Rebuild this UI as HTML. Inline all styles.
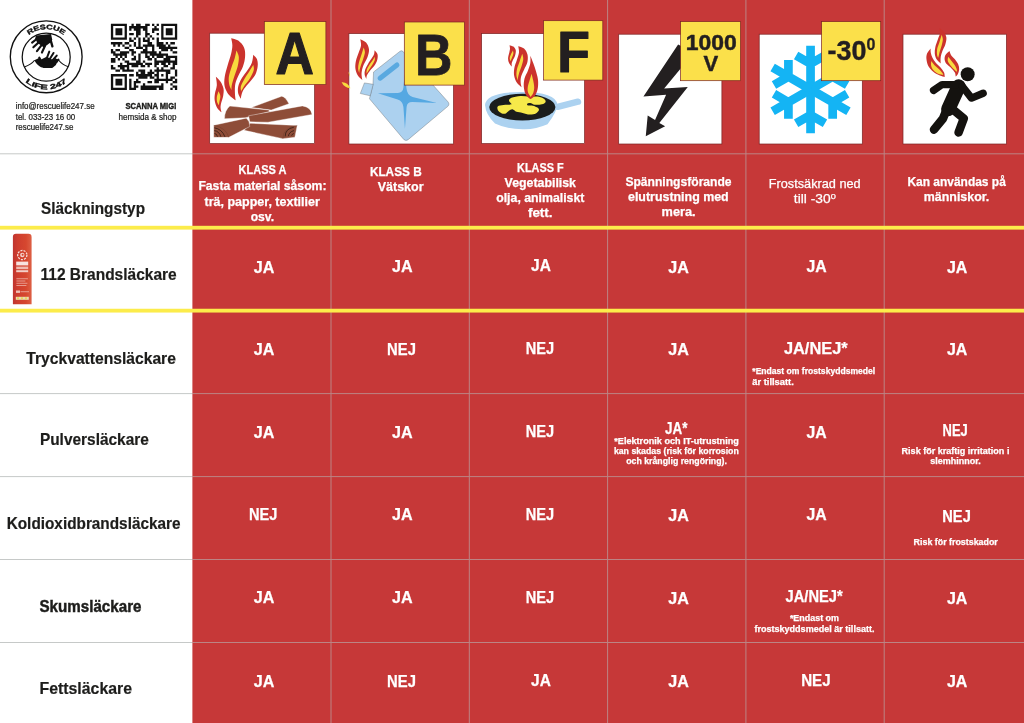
<!DOCTYPE html><html lang="sv"><head><meta charset="utf-8"><title>Släckningstyp</title>
<style>html,body{margin:0;padding:0;background:#fff;overflow:hidden}svg{display:block;will-change:transform}text{font-family:"Liberation Sans",sans-serif}</style></head><body>
<svg width="1024" height="723" viewBox="0 0 1024 723">
<rect width="1024" height="723" fill="#fff"/>
<rect x="192.4" y="0" width="831.6" height="723" fill="#C63838"/>
<rect x="330.5" y="0" width="1" height="723" fill="#BC8484"/>
<rect x="468.8" y="0" width="1" height="723" fill="#BC8484"/>
<rect x="607.1" y="0" width="1" height="723" fill="#BC8484"/>
<rect x="745.4" y="0" width="1" height="723" fill="#BC8484"/>
<rect x="883.7" y="0" width="1" height="723" fill="#BC8484"/>
<rect x="0" y="153.3" width="192.4" height="1" fill="#C6C9C8"/>
<rect x="192.4" y="153.3" width="831.6" height="1" fill="#BC8484"/>
<rect x="0" y="393.1" width="192.4" height="1" fill="#C6C9C8"/>
<rect x="192.4" y="393.1" width="831.6" height="1" fill="#BC8484"/>
<rect x="0" y="476.1" width="192.4" height="1" fill="#C6C9C8"/>
<rect x="192.4" y="476.1" width="831.6" height="1" fill="#BC8484"/>
<rect x="0" y="559.0" width="192.4" height="1" fill="#C6C9C8"/>
<rect x="192.4" y="559.0" width="831.6" height="1" fill="#BC8484"/>
<rect x="0" y="642.0" width="192.4" height="1" fill="#C6C9C8"/>
<rect x="192.4" y="642.0" width="831.6" height="1" fill="#BC8484"/>
<rect x="0" y="225.80" width="1024" height="3.8" fill="#FCEC4B"/>
<rect x="0" y="308.75" width="1024" height="3.8" fill="#FCEC4B"/>
<text x="41.1" y="213.6" font-size="16.4" font-weight="bold" fill="#1d1d1b" text-anchor="start" textLength="103.9" lengthAdjust="spacingAndGlyphs" stroke="#1d1d1b" stroke-width="0.2">Släckningstyp</text>
<text x="40.5" y="280.0" font-size="16.4" font-weight="bold" fill="#1d1d1b" text-anchor="start" textLength="136.2" lengthAdjust="spacingAndGlyphs" stroke="#1d1d1b" stroke-width="0.2">112 Brandsläckare</text>
<text x="26.3" y="363.6" font-size="16.4" font-weight="bold" fill="#1d1d1b" text-anchor="start" textLength="149.6" lengthAdjust="spacingAndGlyphs" stroke="#1d1d1b" stroke-width="0.2">Tryckvattensläckare</text>
<text x="39.9" y="444.8" font-size="16.4" font-weight="bold" fill="#1d1d1b" text-anchor="start" textLength="109.0" lengthAdjust="spacingAndGlyphs" stroke="#1d1d1b" stroke-width="0.2">Pulversläckare</text>
<text x="6.7" y="529.0" font-size="16.4" font-weight="bold" fill="#1d1d1b" text-anchor="start" textLength="173.8" lengthAdjust="spacingAndGlyphs" stroke="#1d1d1b" stroke-width="0.2">Koldioxidbrandsläckare</text>
<text x="39.5" y="611.6" font-size="16.4" font-weight="bold" fill="#1d1d1b" text-anchor="start" textLength="102.0" lengthAdjust="spacingAndGlyphs" stroke="#1d1d1b" stroke-width="0.45">Skumsläckare</text>
<text x="39.5" y="694.4" font-size="16.4" font-weight="bold" fill="#1d1d1b" text-anchor="start" textLength="92.5" lengthAdjust="spacingAndGlyphs" stroke="#1d1d1b" stroke-width="0.2">Fettsläckare</text>
<text x="15.7" y="108.9" font-size="8.2" font-weight="normal" fill="#1d1d1b" text-anchor="start" textLength="78.9" lengthAdjust="spacingAndGlyphs" stroke="#1d1d1b" stroke-width="0.22">info@rescuelife247.se</text>
<text x="15.7" y="119.6" font-size="8.2" font-weight="normal" fill="#1d1d1b" text-anchor="start" textLength="59.6" lengthAdjust="spacingAndGlyphs" stroke="#1d1d1b" stroke-width="0.22">tel. 033-23 16 00</text>
<text x="15.7" y="129.9" font-size="8.2" font-weight="normal" fill="#1d1d1b" text-anchor="start" textLength="57.7" lengthAdjust="spacingAndGlyphs" stroke="#1d1d1b" stroke-width="0.22">rescuelife247.se</text>
<text x="125.4" y="108.9" font-size="8.2" font-weight="bold" fill="#1d1d1b" text-anchor="start" textLength="51.2" lengthAdjust="spacingAndGlyphs" stroke="#1d1d1b" stroke-width="0.4">SCANNA MIG!</text>
<text x="118.5" y="119.6" font-size="8.2" font-weight="normal" fill="#1d1d1b" text-anchor="start" textLength="58.1" lengthAdjust="spacingAndGlyphs" stroke="#1d1d1b" stroke-width="0.22">hemsida &amp; shop</text>
<text x="238.6" y="174.4" font-size="12.4" font-weight="bold" fill="#fff" text-anchor="start" textLength="48.0" lengthAdjust="spacingAndGlyphs" stroke="#fff" stroke-width="0.25">KLASS A</text>
<text x="198.4" y="190.0" font-size="12.4" font-weight="bold" fill="#fff" text-anchor="start" textLength="128.1" lengthAdjust="spacingAndGlyphs" stroke="#fff" stroke-width="0.25">Fasta material såsom:</text>
<text x="204.6" y="205.6" font-size="12.4" font-weight="bold" fill="#fff" text-anchor="start" textLength="115.2" lengthAdjust="spacingAndGlyphs" stroke="#fff" stroke-width="0.25">trä, papper, textilier</text>
<text x="250.7" y="221.2" font-size="12.4" font-weight="bold" fill="#fff" text-anchor="start" textLength="23.4" lengthAdjust="spacingAndGlyphs" stroke="#fff" stroke-width="0.25">osv.</text>
<text x="369.9" y="175.5" font-size="12.4" font-weight="bold" fill="#fff" text-anchor="start" textLength="51.8" lengthAdjust="spacingAndGlyphs" stroke="#fff" stroke-width="0.25">KLASS B</text>
<text x="377.7" y="191.4" font-size="12.4" font-weight="bold" fill="#fff" text-anchor="start" textLength="45.9" lengthAdjust="spacingAndGlyphs" stroke="#fff" stroke-width="0.25">Vätskor</text>
<text x="517.1" y="171.6" font-size="12.4" font-weight="bold" fill="#fff" text-anchor="start" textLength="46.6" lengthAdjust="spacingAndGlyphs" stroke="#fff" stroke-width="0.25">KLASS F</text>
<text x="504.6" y="187.2" font-size="12.4" font-weight="bold" fill="#fff" text-anchor="start" textLength="71.4" lengthAdjust="spacingAndGlyphs" stroke="#fff" stroke-width="0.25">Vegetabilisk</text>
<text x="496.2" y="202.3" font-size="12.4" font-weight="bold" fill="#fff" text-anchor="start" textLength="88.2" lengthAdjust="spacingAndGlyphs" stroke="#fff" stroke-width="0.25">olja, animaliskt</text>
<text x="527.9" y="217.3" font-size="12.4" font-weight="bold" fill="#fff" text-anchor="start" textLength="24.7" lengthAdjust="spacingAndGlyphs" stroke="#fff" stroke-width="0.25">fett.</text>
<text x="625.4" y="185.6" font-size="12.4" font-weight="bold" fill="#fff" text-anchor="start" textLength="106.2" lengthAdjust="spacingAndGlyphs" stroke="#fff" stroke-width="0.25">Spänningsförande</text>
<text x="628.0" y="200.5" font-size="12.4" font-weight="bold" fill="#fff" text-anchor="start" textLength="100.7" lengthAdjust="spacingAndGlyphs" stroke="#fff" stroke-width="0.25">elutrustning med</text>
<text x="661.6" y="215.6" font-size="12.4" font-weight="bold" fill="#fff" text-anchor="start" textLength="34.0" lengthAdjust="spacingAndGlyphs" stroke="#fff" stroke-width="0.25">mera.</text>
<text x="768.8" y="187.5" font-size="12.4" font-weight="normal" fill="#fff" text-anchor="start" textLength="91.8" lengthAdjust="spacingAndGlyphs" stroke="#fff" stroke-width="0.25">Frostsäkrad ned</text>
<text x="793.8" y="203.1" font-size="12.4" font-weight="normal" fill="#fff" text-anchor="start" textLength="36.8" lengthAdjust="spacingAndGlyphs" stroke="#fff" stroke-width="0.25">till -30</text>
<text x="830.8" y="198.6" font-size="7.5" font-weight="normal" fill="#fff" text-anchor="start" textLength="5.1" lengthAdjust="spacingAndGlyphs" stroke="#fff" stroke-width="0.25">0</text>
<text x="907.4" y="186.0" font-size="12.4" font-weight="bold" fill="#fff" text-anchor="start" textLength="98.4" lengthAdjust="spacingAndGlyphs" stroke="#fff" stroke-width="0.25">Kan användas på</text>
<text x="923.8" y="201.1" font-size="12.4" font-weight="bold" fill="#fff" text-anchor="start" textLength="65.5" lengthAdjust="spacingAndGlyphs" stroke="#fff" stroke-width="0.25">människor.</text>
<text x="253.8" y="272.6" font-size="15.6" font-weight="bold" fill="#fff" text-anchor="start" textLength="20.6" lengthAdjust="spacingAndGlyphs" stroke="#fff" stroke-width="0.25">JA</text>
<text x="392.1" y="272.2" font-size="15.6" font-weight="bold" fill="#fff" text-anchor="start" textLength="20.6" lengthAdjust="spacingAndGlyphs" stroke="#fff" stroke-width="0.25">JA</text>
<text x="531.1" y="271.3" font-size="15.6" font-weight="bold" fill="#fff" text-anchor="start" textLength="19.8" lengthAdjust="spacingAndGlyphs" stroke="#fff" stroke-width="0.25">JA</text>
<text x="668.3" y="273.0" font-size="15.6" font-weight="bold" fill="#fff" text-anchor="start" textLength="20.6" lengthAdjust="spacingAndGlyphs" stroke="#fff" stroke-width="0.25">JA</text>
<text x="806.5" y="271.8" font-size="15.6" font-weight="bold" fill="#fff" text-anchor="start" textLength="20.2" lengthAdjust="spacingAndGlyphs" stroke="#fff" stroke-width="0.25">JA</text>
<text x="947.0" y="273.0" font-size="15.6" font-weight="bold" fill="#fff" text-anchor="start" textLength="20.4" lengthAdjust="spacingAndGlyphs" stroke="#fff" stroke-width="0.25">JA</text>
<text x="253.8" y="355.0" font-size="15.6" font-weight="bold" fill="#fff" text-anchor="start" textLength="20.6" lengthAdjust="spacingAndGlyphs" stroke="#fff" stroke-width="0.25">JA</text>
<text x="387.1" y="355.0" font-size="15.6" font-weight="bold" fill="#fff" text-anchor="start" textLength="28.8" lengthAdjust="spacingAndGlyphs" stroke="#fff" stroke-width="0.25">NEJ</text>
<text x="525.8" y="354.2" font-size="15.6" font-weight="bold" fill="#fff" text-anchor="start" textLength="28.4" lengthAdjust="spacingAndGlyphs" stroke="#fff" stroke-width="0.25">NEJ</text>
<text x="668.3" y="355.4" font-size="15.6" font-weight="bold" fill="#fff" text-anchor="start" textLength="20.6" lengthAdjust="spacingAndGlyphs" stroke="#fff" stroke-width="0.25">JA</text>
<text x="947.0" y="355.4" font-size="15.6" font-weight="bold" fill="#fff" text-anchor="start" textLength="20.4" lengthAdjust="spacingAndGlyphs" stroke="#fff" stroke-width="0.25">JA</text>
<text x="783.9" y="354.2" font-size="15.6" font-weight="bold" fill="#fff" text-anchor="start" textLength="63.8" lengthAdjust="spacingAndGlyphs" stroke="#fff" stroke-width="0.25">JA/NEJ*</text>
<text x="752.3" y="373.7" font-size="8.3" font-weight="bold" fill="#fff" text-anchor="start" textLength="122.9" lengthAdjust="spacingAndGlyphs" stroke="#fff" stroke-width="0.25">*Endast om frostskyddsmedel</text>
<text x="752.3" y="385.0" font-size="8.3" font-weight="bold" fill="#fff" text-anchor="start" textLength="41.5" lengthAdjust="spacingAndGlyphs" stroke="#fff" stroke-width="0.25">är tillsatt.</text>
<text x="253.8" y="437.6" font-size="15.6" font-weight="bold" fill="#fff" text-anchor="start" textLength="20.6" lengthAdjust="spacingAndGlyphs" stroke="#fff" stroke-width="0.25">JA</text>
<text x="392.1" y="437.6" font-size="15.6" font-weight="bold" fill="#fff" text-anchor="start" textLength="20.6" lengthAdjust="spacingAndGlyphs" stroke="#fff" stroke-width="0.25">JA</text>
<text x="525.8" y="436.8" font-size="15.6" font-weight="bold" fill="#fff" text-anchor="start" textLength="28.4" lengthAdjust="spacingAndGlyphs" stroke="#fff" stroke-width="0.25">NEJ</text>
<text x="806.5" y="438.0" font-size="15.6" font-weight="bold" fill="#fff" text-anchor="start" textLength="20.2" lengthAdjust="spacingAndGlyphs" stroke="#fff" stroke-width="0.25">JA</text>
<text x="665.0" y="434.2" font-size="15.6" font-weight="bold" fill="#fff" text-anchor="start" textLength="22.4" lengthAdjust="spacingAndGlyphs" stroke="#fff" stroke-width="0.25">JA*</text>
<text x="614.3" y="444.4" font-size="8.3" font-weight="bold" fill="#fff" text-anchor="start" textLength="124.5" lengthAdjust="spacingAndGlyphs" stroke="#fff" stroke-width="0.25">*Elektronik och IT-utrustning</text>
<text x="613.9" y="454.3" font-size="8.3" font-weight="bold" fill="#fff" text-anchor="start" textLength="124.9" lengthAdjust="spacingAndGlyphs" stroke="#fff" stroke-width="0.25">kan skadas (risk för korrosion</text>
<text x="626.2" y="464.0" font-size="8.3" font-weight="bold" fill="#fff" text-anchor="start" textLength="100.7" lengthAdjust="spacingAndGlyphs" stroke="#fff" stroke-width="0.25">och krånglig rengöring).</text>
<text x="942.6" y="435.5" font-size="15.6" font-weight="bold" fill="#fff" text-anchor="start" textLength="25.2" lengthAdjust="spacingAndGlyphs" stroke="#fff" stroke-width="0.25">NEJ</text>
<text x="901.6" y="453.6" font-size="8.3" font-weight="bold" fill="#fff" text-anchor="start" textLength="107.8" lengthAdjust="spacingAndGlyphs" stroke="#fff" stroke-width="0.25">Risk för kraftig irritation i</text>
<text x="930.3" y="464.3" font-size="8.3" font-weight="bold" fill="#fff" text-anchor="start" textLength="50.4" lengthAdjust="spacingAndGlyphs" stroke="#fff" stroke-width="0.25">slemhinnor.</text>
<text x="248.9" y="520.4" font-size="15.6" font-weight="bold" fill="#fff" text-anchor="start" textLength="28.4" lengthAdjust="spacingAndGlyphs" stroke="#fff" stroke-width="0.25">NEJ</text>
<text x="392.1" y="520.4" font-size="15.6" font-weight="bold" fill="#fff" text-anchor="start" textLength="20.6" lengthAdjust="spacingAndGlyphs" stroke="#fff" stroke-width="0.25">JA</text>
<text x="525.8" y="519.6" font-size="15.6" font-weight="bold" fill="#fff" text-anchor="start" textLength="28.4" lengthAdjust="spacingAndGlyphs" stroke="#fff" stroke-width="0.25">NEJ</text>
<text x="668.3" y="521.3" font-size="15.6" font-weight="bold" fill="#fff" text-anchor="start" textLength="20.6" lengthAdjust="spacingAndGlyphs" stroke="#fff" stroke-width="0.25">JA</text>
<text x="806.5" y="519.6" font-size="15.6" font-weight="bold" fill="#fff" text-anchor="start" textLength="20.2" lengthAdjust="spacingAndGlyphs" stroke="#fff" stroke-width="0.25">JA</text>
<text x="942.3" y="522.4" font-size="15.6" font-weight="bold" fill="#fff" text-anchor="start" textLength="28.5" lengthAdjust="spacingAndGlyphs" stroke="#fff" stroke-width="0.25">NEJ</text>
<text x="913.6" y="545.4" font-size="8.3" font-weight="bold" fill="#fff" text-anchor="start" textLength="84.2" lengthAdjust="spacingAndGlyphs" stroke="#fff" stroke-width="0.25">Risk för frostskador</text>
<text x="253.8" y="603.4" font-size="15.6" font-weight="bold" fill="#fff" text-anchor="start" textLength="20.6" lengthAdjust="spacingAndGlyphs" stroke="#fff" stroke-width="0.25">JA</text>
<text x="392.1" y="603.4" font-size="15.6" font-weight="bold" fill="#fff" text-anchor="start" textLength="20.6" lengthAdjust="spacingAndGlyphs" stroke="#fff" stroke-width="0.25">JA</text>
<text x="525.8" y="602.6" font-size="15.6" font-weight="bold" fill="#fff" text-anchor="start" textLength="28.4" lengthAdjust="spacingAndGlyphs" stroke="#fff" stroke-width="0.25">NEJ</text>
<text x="668.3" y="604.2" font-size="15.6" font-weight="bold" fill="#fff" text-anchor="start" textLength="20.6" lengthAdjust="spacingAndGlyphs" stroke="#fff" stroke-width="0.25">JA</text>
<text x="947.0" y="604.2" font-size="15.6" font-weight="bold" fill="#fff" text-anchor="start" textLength="20.4" lengthAdjust="spacingAndGlyphs" stroke="#fff" stroke-width="0.25">JA</text>
<text x="785.5" y="601.7" font-size="15.6" font-weight="bold" fill="#fff" text-anchor="start" textLength="57.2" lengthAdjust="spacingAndGlyphs" stroke="#fff" stroke-width="0.25">JA/NEJ*</text>
<text x="789.9" y="620.9" font-size="8.3" font-weight="bold" fill="#fff" text-anchor="start" textLength="49.1" lengthAdjust="spacingAndGlyphs" stroke="#fff" stroke-width="0.25">*Endast om</text>
<text x="754.4" y="632.2" font-size="8.3" font-weight="bold" fill="#fff" text-anchor="start" textLength="120.1" lengthAdjust="spacingAndGlyphs" stroke="#fff" stroke-width="0.25">frostskyddsmedel är tillsatt.</text>
<text x="253.8" y="686.7" font-size="15.6" font-weight="bold" fill="#fff" text-anchor="start" textLength="20.6" lengthAdjust="spacingAndGlyphs" stroke="#fff" stroke-width="0.25">JA</text>
<text x="387.1" y="686.7" font-size="15.6" font-weight="bold" fill="#fff" text-anchor="start" textLength="28.8" lengthAdjust="spacingAndGlyphs" stroke="#fff" stroke-width="0.25">NEJ</text>
<text x="531.1" y="686.3" font-size="15.6" font-weight="bold" fill="#fff" text-anchor="start" textLength="19.8" lengthAdjust="spacingAndGlyphs" stroke="#fff" stroke-width="0.25">JA</text>
<text x="668.3" y="687.0" font-size="15.6" font-weight="bold" fill="#fff" text-anchor="start" textLength="20.6" lengthAdjust="spacingAndGlyphs" stroke="#fff" stroke-width="0.25">JA</text>
<text x="801.2" y="686.2" font-size="15.6" font-weight="bold" fill="#fff" text-anchor="start" textLength="29.4" lengthAdjust="spacingAndGlyphs" stroke="#fff" stroke-width="0.25">NEJ</text>
<text x="947.0" y="687.0" font-size="15.6" font-weight="bold" fill="#fff" text-anchor="start" textLength="20.4" lengthAdjust="spacingAndGlyphs" stroke="#fff" stroke-width="0.25">JA</text>
<rect x="209.7" y="33.2" width="104.9" height="110.4" fill="#fff" stroke="#7A2323" stroke-width="0.7"/>
<g transform="translate(210,90) scale(0.10742)"><path d="M385,163 L668,58 Q700,62 735,128 L570,187 Z" fill="#8E4D38" stroke="#fff" stroke-width="3.5" stroke-linejoin="round"/><path d="M185,150 L545,186 L556,200 L330,258 L135,268 Q135,190 185,150 Z" fill="#8E4D38" stroke="#fff" stroke-width="3.5" stroke-linejoin="round"/><path d="M360,240 L860,148 Q940,160 950,228 L540,300 L370,296 Z" fill="#8E4D38" stroke="#fff" stroke-width="3.5" stroke-linejoin="round"/><path d="M375,310 L812,330 L790,440 L678,453 L318,375 Z" fill="#8E4D38" stroke="#fff" stroke-width="3.5" stroke-linejoin="round"/><path d="M35,328 L338,262 Q372,290 370,340 L175,441 L35,441 Z" fill="#8E4D38" stroke="#fff" stroke-width="3.5" stroke-linejoin="round"/><path d="M40,352 q70,10 100,85 M40,378 q45,5 62,58 M42,405 q20,0 28,30" stroke="#2e1810" stroke-width="7" fill="none"/><path d="M700,432 q0,-70 80,-85 M730,430 q5,-40 52,-52 M760,425 q4,-16 20,-20" stroke="#2e1810" stroke-width="7" fill="none"/><path d="M35,328 Q150,350 175,441 M678,453 Q680,350 812,330" stroke="#5d3224" stroke-width="3" fill="none"/></g>
<g transform="translate(200,10) scale(0.19365)"></g>
<g transform="translate(210,30) scale(0.11765)"><path d="M180.0,70.0 C190.0,73.3 221.7,76.7 240.0,90.0 C258.3,103.3 280.3,126.7 290.0,150.0 C299.7,173.3 299.7,203.3 298.0,230.0 C296.3,256.7 289.7,283.3 280.0,310.0 C270.3,336.7 250.8,365.0 240.0,390.0 C229.2,415.0 219.7,435.0 215.0,460.0 C210.3,485.0 211.5,517.0 212.0,540.0 C212.5,563.0 217.0,588.3 218.0,598.0 C208.3,590.0 175.5,569.7 160.0,550.0 C144.5,530.3 130.8,505.0 125.0,480.0 C119.2,455.0 120.8,430.0 125.0,400.0 C129.2,370.0 140.8,333.3 150.0,300.0 C159.2,266.7 173.3,228.3 180.0,200.0 C186.7,171.7 190.0,151.7 190.0,130.0 C190.0,108.3 181.7,80.0 180.0,70.0 Z" fill="#CB332D"/><path d="M225.0,175.0 C228.3,184.2 243.3,207.5 245.0,230.0 C246.7,252.5 241.7,281.7 235.0,310.0 C228.3,338.3 213.3,373.3 205.0,400.0 C196.7,426.7 188.7,451.7 185.0,470.0 C181.3,488.3 183.3,503.3 183.0,510.0 C180.0,503.3 168.8,488.3 165.0,470.0 C161.2,451.7 156.7,426.7 160.0,400.0 C163.3,373.3 176.7,336.7 185.0,310.0 C193.3,283.3 203.3,262.5 210.0,240.0 C216.7,217.5 222.5,185.8 225.0,175.0 Z" fill="#F8DA3E"/><path d="M368.0,210.0 C373.3,216.7 393.8,233.3 400.0,250.0 C406.2,266.7 407.5,288.3 405.0,310.0 C402.5,331.7 395.8,358.3 385.0,380.0 C374.2,401.7 355.8,420.0 340.0,440.0 C324.2,460.0 302.0,481.7 290.0,500.0 C278.0,518.3 272.7,535.8 268.0,550.0 C263.3,564.2 263.0,579.2 262.0,585.0 C258.3,577.5 243.7,557.5 240.0,540.0 C236.3,522.5 235.0,501.7 240.0,480.0 C245.0,458.3 256.7,433.3 270.0,410.0 C283.3,386.7 305.8,361.7 320.0,340.0 C334.2,318.3 347.0,301.7 355.0,280.0 C363.0,258.3 365.8,221.7 368.0,210.0 Z" fill="#CB332D"/><path d="M368.0,295.0 C368.7,302.5 376.7,320.8 372.0,340.0 C367.3,359.2 352.8,388.3 340.0,410.0 C327.2,431.7 307.5,451.7 295.0,470.0 C282.5,488.3 270.0,511.7 265.0,520.0 C264.5,513.3 257.8,496.7 262.0,480.0 C266.2,463.3 277.8,441.7 290.0,420.0 C302.2,398.3 322.0,370.8 335.0,350.0 C348.0,329.2 362.5,304.2 368.0,295.0 Z" fill="#F8DA3E"/><path d="M50.0,398.0 C56.7,405.0 79.2,423.0 90.0,440.0 C100.8,457.0 111.3,480.0 115.0,500.0 C118.7,520.0 115.3,540.0 112.0,560.0 C108.7,580.0 98.7,603.3 95.0,620.0 C91.3,636.7 89.5,646.7 90.0,660.0 C90.5,673.3 96.7,693.3 98.0,700.0 C91.7,693.3 69.7,676.7 60.0,660.0 C50.3,643.3 43.0,620.0 40.0,600.0 C37.0,580.0 39.0,561.7 42.0,540.0 C45.0,518.3 56.7,493.7 58.0,470.0 C59.3,446.3 51.3,410.0 50.0,398.0 Z" fill="#CB332D"/><path d="M72.0,520.0 C74.7,526.7 86.7,545.0 88.0,560.0 C89.3,575.0 82.2,596.7 80.0,610.0 C77.8,623.3 75.8,635.0 75.0,640.0 C72.5,635.0 62.8,621.7 60.0,610.0 C57.2,598.3 56.0,585.0 58.0,570.0 C60.0,555.0 69.7,528.3 72.0,520.0 Z" fill="#F8DA3E"/></g>
<rect x="264.3" y="21.6" width="61.6" height="63.0" fill="#FBE04A" stroke="#7A2323" stroke-width="0.7"/>
<text x="275.6" y="73.9" font-size="58.6" font-weight="bold" fill="#231f20" stroke="#231f20" stroke-width="1.2" stroke-linejoin="round" textLength="38.4" lengthAdjust="spacingAndGlyphs">A</text>
<rect x="348.9" y="33.6" width="104.6" height="110.4" fill="#fff" stroke="#7A2323" stroke-width="0.7"/>
<g transform="translate(335,10) scale(0.19365)"><path d="M34,373 Q64,370 80,404 Q48,402 34,373Z" fill="#F8DA3E"/><path d="M70,318 Q78,330 76,345 Q70,332 70,318Z" fill="#F8DA3E"/></g>
<g transform="translate(365,60) scale(0.11749)"><path d="M298,-74 L73,102 L68,205 L38,330 L330,676 Q348,694 367,678 L708,392 Q722,375 708,358 L322,-74 Q310,-84 298,-74 Z" fill="#ACD1EF" stroke="#5a5a5a" stroke-width="3" stroke-linejoin="round"/><path d="M-5,195 L70,207 L45,305 L-40,285 Z" fill="#ACD1EF" stroke="#5a5a5a" stroke-width="3" stroke-linejoin="round"/><path d="M128,155 L272,42" stroke="#5AA9E0" stroke-width="42" stroke-linecap="round" fill="none"/><path d="M110,283 L278,281 Q322,282 327,235 L338,120 L353,240 Q358,300 405,314 L612,365 L405,358 Q358,356 354,400 L340,585 L327,400 Q322,350 278,336 Z" fill="#55A8E2"/></g>
<g transform="translate(335,10) scale(0.19365)"></g>
<g transform="translate(338,30) scale(0.09682)"><path d="M230.0,95.0 C240.0,100.8 275.0,112.5 290.0,130.0 C305.0,147.5 317.5,175.0 320.0,200.0 C322.5,225.0 314.2,253.3 305.0,280.0 C295.8,306.7 275.0,335.0 265.0,360.0 C255.0,385.0 248.3,410.0 245.0,430.0 C241.7,450.0 243.8,465.3 245.0,480.0 C246.2,494.7 250.8,511.7 252.0,518.0 C244.2,510.0 217.0,489.7 205.0,470.0 C193.0,450.3 183.3,425.0 180.0,400.0 C176.7,375.0 179.2,348.3 185.0,320.0 C190.8,291.7 206.2,256.7 215.0,230.0 C223.8,203.3 235.5,182.5 238.0,160.0 C240.5,137.5 231.3,105.8 230.0,95.0 Z" fill="#CB332D"/><path d="M265.0,180.0 C267.2,188.3 278.8,210.0 278.0,230.0 C277.2,250.0 267.2,276.7 260.0,300.0 C252.8,323.3 241.3,350.0 235.0,370.0 C228.7,390.0 224.5,407.5 222.0,420.0 C219.5,432.5 220.3,440.8 220.0,445.0 C218.0,437.5 208.8,417.5 208.0,400.0 C207.2,382.5 209.7,363.3 215.0,340.0 C220.3,316.7 231.7,286.7 240.0,260.0 C248.3,233.3 260.8,193.3 265.0,180.0 Z" fill="#F8DA3E"/><path d="M378.0,208.0 C383.0,215.0 403.5,233.0 408.0,250.0 C412.5,267.0 410.5,290.0 405.0,310.0 C399.5,330.0 387.5,351.7 375.0,370.0 C362.5,388.3 342.5,404.2 330.0,420.0 C317.5,435.8 306.3,450.8 300.0,465.0 C293.7,479.2 293.3,498.3 292.0,505.0 C289.2,497.5 277.0,475.8 275.0,460.0 C273.0,444.2 274.2,428.3 280.0,410.0 C285.8,391.7 298.3,370.0 310.0,350.0 C321.7,330.0 339.7,306.7 350.0,290.0 C360.3,273.3 367.3,263.7 372.0,250.0 C376.7,236.3 377.0,215.0 378.0,208.0 Z" fill="#CB332D"/><path d="M378.0,275.0 C378.3,280.8 383.8,295.8 380.0,310.0 C376.2,324.2 365.0,343.3 355.0,360.0 C345.0,376.7 330.0,395.0 320.0,410.0 C310.0,425.0 299.2,443.3 295.0,450.0 C295.5,443.3 293.0,425.0 298.0,410.0 C303.0,395.0 314.7,376.7 325.0,360.0 C335.3,343.3 351.2,324.2 360.0,310.0 C368.8,295.8 375.0,280.8 378.0,275.0 Z" fill="#F8DA3E"/></g>
<rect x="404.3" y="22.0" width="60.1" height="63.1" fill="#FBE04A" stroke="#7A2323" stroke-width="0.7"/>
<text x="415.0" y="75.4" font-size="57.4" font-weight="bold" fill="#231f20" stroke="#231f20" stroke-width="0.8" stroke-linejoin="round" textLength="37.4" lengthAdjust="spacingAndGlyphs">B</text>
<rect x="481.6" y="33.6" width="103.0" height="110.0" fill="#fff" stroke="#7A2323" stroke-width="0.7"/>
<g transform="translate(482,88) scale(0.10156)"><path d="M745,185 L945,135" stroke="#ACD2F0" stroke-width="64" stroke-linecap="round"/><path d="M30,168 Q40,40 385,40 Q730,40 742,165 Q738,235 645,358 Q520,412 400,406 Q230,402 128,350 Q36,262 30,168Z" fill="#ACD2F0"/><ellipse cx="397" cy="188" rx="326" ry="131" fill="#1B1D1C"/><path d="M150,195 C152.5,191.7 151.7,180.0 165.0,175.0 C178.3,170.0 209.2,167.5 230.0,165.0 C250.8,162.5 284.2,166.7 290.0,160.0 C295.8,153.3 265.0,135.8 265.0,125.0 C265.0,114.2 270.8,102.8 290.0,95.0 C309.2,87.2 350.0,79.7 380.0,78.0 C410.0,76.3 440.0,83.8 470.0,85.0 C500.0,86.2 535.8,80.8 560.0,85.0 C584.2,89.2 604.2,100.8 615.0,110.0 C625.8,119.2 629.2,131.7 625.0,140.0 C620.8,148.3 607.5,155.8 590.0,160.0 C572.5,164.2 539.2,167.0 520.0,165.0 C500.8,163.0 487.5,149.7 475.0,148.0 C462.5,146.3 448.8,151.0 445.0,155.0 C441.2,159.0 442.8,168.7 452.0,172.0 C461.2,175.3 483.7,171.2 500.0,175.0 C516.3,178.8 540.0,187.5 550.0,195.0 C560.0,202.5 563.3,210.8 560.0,220.0 C556.7,229.2 545.0,243.0 530.0,250.0 C515.0,257.0 491.7,262.8 470.0,262.0 C448.3,261.2 421.7,249.5 400.0,245.0 C378.3,240.5 356.7,240.8 340.0,235.0 C323.3,229.2 312.5,211.7 300.0,210.0 C287.5,208.3 275.8,218.3 265.0,225.0 C254.2,231.7 246.7,245.8 235.0,250.0 C223.3,254.2 207.5,254.2 195.0,250.0 C182.5,245.8 167.5,234.2 160.0,225.0 C152.5,215.8 151.7,200.0 150.0,195.0 Z" fill="#F6E94A"/></g>
<g transform="translate(470,10) scale(0.19365)"></g>
<g transform="translate(495,35) scale(0.09677)"><path d="M365.0,215.0 C370.0,227.5 385.0,262.5 395.0,290.0 C405.0,317.5 416.7,350.0 425.0,380.0 C433.3,410.0 442.5,440.0 445.0,470.0 C447.5,500.0 445.8,533.3 440.0,560.0 C434.2,586.7 422.5,613.0 410.0,630.0 C397.5,647.0 372.5,656.7 365.0,662.0 C357.5,655.0 331.2,640.3 320.0,620.0 C308.8,599.7 300.5,568.3 298.0,540.0 C295.5,511.7 298.0,478.3 305.0,450.0 C312.0,421.7 330.0,396.7 340.0,370.0 C350.0,343.3 360.8,315.8 365.0,290.0 C369.2,264.2 365.0,227.5 365.0,215.0 Z" fill="#CB332D"/><path d="M378.0,400.0 C380.8,411.7 390.5,446.7 395.0,470.0 C399.5,493.3 405.0,518.3 405.0,540.0 C405.0,561.7 401.2,583.3 395.0,600.0 C388.8,616.7 372.5,633.3 368.0,640.0 C363.3,631.7 344.7,608.3 340.0,590.0 C335.3,571.7 336.7,551.7 340.0,530.0 C343.3,508.3 353.7,481.7 360.0,460.0 C366.3,438.3 375.0,410.0 378.0,400.0 Z" fill="#F8DA3E"/><path d="M240.0,115.0 C250.0,119.2 284.2,125.8 300.0,140.0 C315.8,154.2 329.2,176.7 335.0,200.0 C340.8,223.3 340.8,253.3 335.0,280.0 C329.2,306.7 310.8,335.0 300.0,360.0 C289.2,385.0 275.8,408.3 270.0,430.0 C264.2,451.7 264.2,471.7 265.0,490.0 C265.8,508.3 273.3,531.7 275.0,540.0 C266.7,531.7 237.8,510.0 225.0,490.0 C212.2,470.0 202.2,445.0 198.0,420.0 C193.8,395.0 195.5,366.7 200.0,340.0 C204.5,313.3 217.0,286.7 225.0,260.0 C233.0,233.3 245.5,204.2 248.0,180.0 C250.5,155.8 241.3,125.8 240.0,115.0 Z" fill="#CB332D"/><path d="M282.0,195.0 C283.7,204.2 293.2,229.2 292.0,250.0 C290.8,270.8 282.0,296.7 275.0,320.0 C268.0,343.3 256.2,370.0 250.0,390.0 C243.8,410.0 240.0,426.7 238.0,440.0 C236.0,453.3 238.0,465.0 238.0,470.0 C235.3,461.7 223.7,440.0 222.0,420.0 C220.3,400.0 222.5,375.0 228.0,350.0 C233.5,325.0 246.0,295.8 255.0,270.0 C264.0,244.2 277.5,207.5 282.0,195.0 Z" fill="#F8DA3E"/><path d="M150.0,105.0 C156.7,107.5 179.2,110.8 190.0,120.0 C200.8,129.2 212.5,143.3 215.0,160.0 C217.5,176.7 210.8,201.7 205.0,220.0 C199.2,238.3 185.5,256.7 180.0,270.0 C174.5,283.3 172.8,290.3 172.0,300.0 C171.2,309.7 174.5,323.3 175.0,328.0 C170.0,321.7 151.7,304.7 145.0,290.0 C138.3,275.3 134.5,258.3 135.0,240.0 C135.5,221.7 144.7,196.7 148.0,180.0 C151.3,163.3 154.7,152.5 155.0,140.0 C155.3,127.5 150.8,110.8 150.0,105.0 Z" fill="#CB332D"/><path d="M185.0,160.0 C185.8,165.0 191.7,177.5 190.0,190.0 C188.3,202.5 180.0,221.7 175.0,235.0 C170.0,248.3 162.5,264.2 160.0,270.0 C158.7,265.0 151.2,251.7 152.0,240.0 C152.8,228.3 159.5,213.3 165.0,200.0 C170.5,186.7 181.7,166.7 185.0,160.0 Z" fill="#F8DA3E"/></g>
<rect x="543.6" y="20.7" width="59.2" height="59.4" fill="#FBE04A" stroke="#7A2323" stroke-width="0.7"/>
<text x="557.2" y="72.4" font-size="57.6" font-weight="bold" fill="#231f20" stroke="#231f20" stroke-width="1.2" stroke-linejoin="round" textLength="32.6" lengthAdjust="spacingAndGlyphs">F</text>
<rect x="618.7" y="34.2" width="103.2" height="109.8" fill="#fff" stroke="#7A2323" stroke-width="0.7"/>
<g transform="translate(608,10) scale(0.19365)"><path d="M362,178 L183,447 L300,438 L243,568 L205,545 L195,652 L295,600 L265,583 L412,398 L290,405 L385,290 L385,190 Z" fill="#231f20"/></g>
<rect x="680.6" y="21.6" width="60.0" height="59.1" fill="#FBE04A" stroke="#7A2323" stroke-width="0.7"/>
<text x="685.8" y="50.3" font-size="22.6" font-weight="bold" fill="#231f20" stroke="#231f20" stroke-width="0.5" stroke-linejoin="round" textLength="51.0" lengthAdjust="spacingAndGlyphs">1000</text>
<text x="703.6" y="71.0" font-size="22.8" font-weight="bold" fill="#231f20" stroke="#231f20" stroke-width="0.5" stroke-linejoin="round" textLength="14.7" lengthAdjust="spacingAndGlyphs">V</text>
<rect x="759.2" y="34.2" width="103.1" height="109.8" fill="#fff" stroke="#7A2323" stroke-width="0.7"/>
<g transform="translate(748,10) scale(0.19365)"><g transform="translate(323,410) rotate(0)"><path d="M0,0 L0,-226 M0,-132 L-74.5,-175 M0,-132 L74.5,-175" stroke="#14B4F4" stroke-width="45" fill="none" stroke-linejoin="miter"/></g><g transform="translate(323,410) rotate(60)"><path d="M0,0 L0,-226 M0,-132 L-74.5,-175 M0,-132 L74.5,-175" stroke="#14B4F4" stroke-width="45" fill="none" stroke-linejoin="miter"/></g><g transform="translate(323,410) rotate(120)"><path d="M0,0 L0,-226 M0,-132 L-74.5,-175 M0,-132 L74.5,-175" stroke="#14B4F4" stroke-width="45" fill="none" stroke-linejoin="miter"/></g><g transform="translate(323,410) rotate(180)"><path d="M0,0 L0,-226 M0,-132 L-74.5,-175 M0,-132 L74.5,-175" stroke="#14B4F4" stroke-width="45" fill="none" stroke-linejoin="miter"/></g><g transform="translate(323,410) rotate(240)"><path d="M0,0 L0,-226 M0,-132 L-74.5,-175 M0,-132 L74.5,-175" stroke="#14B4F4" stroke-width="45" fill="none" stroke-linejoin="miter"/></g><g transform="translate(323,410) rotate(300)"><path d="M0,0 L0,-226 M0,-132 L-74.5,-175 M0,-132 L74.5,-175" stroke="#14B4F4" stroke-width="45" fill="none" stroke-linejoin="miter"/></g></g>
<rect x="821.6" y="21.6" width="59.1" height="59.1" fill="#FBE04A" stroke="#7A2323" stroke-width="0.7"/>
<text x="827.6" y="60.0" font-size="27.6" font-weight="bold" fill="#231f20" stroke="#231f20" stroke-width="0.4" stroke-linejoin="round" textLength="38.9" lengthAdjust="spacingAndGlyphs">-30</text>
<text x="866.5" y="49.7" font-size="16.2" font-weight="bold" fill="#231f20" stroke="#231f20" stroke-width="0.3" stroke-linejoin="round" textLength="8.9" lengthAdjust="spacingAndGlyphs">0</text>
<rect x="903.0" y="34.2" width="103.4" height="109.8" fill="#fff" stroke="#7A2323" stroke-width="0.7"/>
<g transform="translate(884,10) scale(0.19365)"><circle cx="432" cy="332" r="36" fill="#14120f"/><path d="M385,395 L332,512" stroke="#14120f" stroke-width="74" stroke-linecap="round" fill="none"/><path d="M375,385 L300,385 L256,415" stroke="#14120f" stroke-width="38" stroke-linecap="round" stroke-linejoin="round" fill="none"/><path d="M405,395 L452,455 L512,430" stroke="#14120f" stroke-width="38" stroke-linecap="round" stroke-linejoin="round" fill="none"/><path d="M345,505 L412,560 L385,632" stroke="#14120f" stroke-width="44" stroke-linecap="round" stroke-linejoin="round" fill="none"/><path d="M325,510 L305,560 L258,618" stroke="#14120f" stroke-width="44" stroke-linecap="round" stroke-linejoin="round" fill="none"/></g>
<g transform="translate(920,22) scale(0.08299)"><path d="M235.0,75.0 C244.2,82.5 276.2,100.8 290.0,120.0 C303.8,139.2 315.5,165.0 318.0,190.0 C320.5,215.0 313.0,243.3 305.0,270.0 C297.0,296.7 279.2,325.0 270.0,350.0 C260.8,375.0 253.7,400.0 250.0,420.0 C246.3,440.0 248.0,456.7 248.0,470.0 C248.0,483.3 249.7,495.0 250.0,500.0 C241.7,491.7 212.0,470.0 200.0,450.0 C188.0,430.0 180.5,405.0 178.0,380.0 C175.5,355.0 178.8,328.3 185.0,300.0 C191.2,271.7 205.8,236.7 215.0,210.0 C224.2,183.3 236.7,162.5 240.0,140.0 C243.3,117.5 235.8,85.8 235.0,75.0 Z" fill="#CB332D"/><path d="M262.0,155.0 C264.2,164.2 275.0,189.2 275.0,210.0 C275.0,230.8 267.8,256.7 262.0,280.0 C256.2,303.3 246.2,328.3 240.0,350.0 C233.8,371.7 228.7,395.8 225.0,410.0 C221.3,424.2 219.2,430.8 218.0,435.0 C215.8,427.5 206.7,409.2 205.0,390.0 C203.3,370.8 203.0,345.0 208.0,320.0 C213.0,295.0 226.0,267.5 235.0,240.0 C244.0,212.5 257.5,169.2 262.0,155.0 Z" fill="#F8DA3E"/><path d="M128.0,318.0 C120.8,328.3 93.3,358.0 85.0,380.0 C76.7,402.0 75.5,425.0 78.0,450.0 C80.5,475.0 86.3,505.0 100.0,530.0 C113.7,555.0 136.7,580.8 160.0,600.0 C183.3,619.2 217.0,634.7 240.0,645.0 C263.0,655.3 288.3,659.2 298.0,662.0 C296.7,653.3 298.0,628.7 290.0,610.0 C282.0,591.3 266.7,570.0 250.0,550.0 C233.3,530.0 206.7,510.0 190.0,490.0 C173.3,470.0 160.0,450.0 150.0,430.0 C140.0,410.0 133.7,388.7 130.0,370.0 C126.3,351.3 128.3,326.7 128.0,318.0 Z" fill="#CB332D"/><path d="M135.0,470.0 C141.7,478.3 159.2,503.3 175.0,520.0 C190.8,536.7 214.2,554.2 230.0,570.0 C245.8,585.8 261.7,603.3 270.0,615.0 C278.3,626.7 278.3,635.8 280.0,640.0 C270.0,637.5 239.2,634.2 220.0,625.0 C200.8,615.8 179.2,600.8 165.0,585.0 C150.8,569.2 140.0,549.2 135.0,530.0 C130.0,510.8 135.0,480.0 135.0,470.0 Z" fill="#F8DA3E"/><path d="M355.0,350.0 C358.3,358.3 364.2,383.3 375.0,400.0 C385.8,416.7 405.8,431.7 420.0,450.0 C434.2,468.3 451.3,490.0 460.0,510.0 C468.7,530.0 472.8,550.0 472.0,570.0 C471.2,590.0 462.0,615.3 455.0,630.0 C448.0,644.7 434.2,653.3 430.0,658.0 C428.3,650.0 428.3,626.3 420.0,610.0 C411.7,593.7 395.8,576.7 380.0,560.0 C364.2,543.3 338.7,526.7 325.0,510.0 C311.3,493.3 301.3,478.3 298.0,460.0 C294.7,441.7 295.5,418.3 305.0,400.0 C314.5,381.7 346.7,358.3 355.0,350.0 Z" fill="#CB332D"/><path d="M340.0,420.0 C346.7,428.3 365.8,451.7 380.0,470.0 C394.2,488.3 414.2,511.7 425.0,530.0 C435.8,548.3 442.5,568.3 445.0,580.0 C447.5,591.7 440.8,596.7 440.0,600.0 C435.0,595.0 422.5,583.3 410.0,570.0 C397.5,556.7 377.5,536.7 365.0,520.0 C352.5,503.3 339.2,486.7 335.0,470.0 C330.8,453.3 339.2,428.3 340.0,420.0 Z" fill="#F8DA3E"/></g>
<path transform="translate(110.9,23.8)" d="M0.00,0.00h16.00v2.29h-16.00zM20.58,0.00h2.29v2.29h-2.29zM25.15,0.00h4.57v2.29h-4.57zM34.29,0.00h4.57v2.29h-4.57zM41.15,0.00h2.29v2.29h-2.29zM45.72,0.00h2.29v2.29h-2.29zM50.30,0.00h16.00v2.29h-16.00zM0.00,2.29h2.29v2.29h-2.29zM13.72,2.29h2.29v2.29h-2.29zM18.29,2.29h18.29v2.29h-18.29zM43.44,2.29h2.29v2.29h-2.29zM50.30,2.29h2.29v2.29h-2.29zM64.01,2.29h2.29v2.29h-2.29zM0.00,4.57h2.29v2.29h-2.29zM4.57,4.57h6.86v2.29h-6.86zM13.72,4.57h2.29v2.29h-2.29zM18.29,4.57h2.29v2.29h-2.29zM22.86,4.57h6.86v2.29h-6.86zM32.01,4.57h4.57v2.29h-4.57zM41.15,4.57h6.86v2.29h-6.86zM50.30,4.57h2.29v2.29h-2.29zM54.87,4.57h6.86v2.29h-6.86zM64.01,4.57h2.29v2.29h-2.29zM0.00,6.86h2.29v2.29h-2.29zM4.57,6.86h6.86v2.29h-6.86zM13.72,6.86h2.29v2.29h-2.29zM25.15,6.86h4.57v2.29h-4.57zM34.29,6.86h2.29v2.29h-2.29zM41.15,6.86h2.29v2.29h-2.29zM50.30,6.86h2.29v2.29h-2.29zM54.87,6.86h6.86v2.29h-6.86zM64.01,6.86h2.29v2.29h-2.29zM0.00,9.14h2.29v2.29h-2.29zM4.57,9.14h6.86v2.29h-6.86zM13.72,9.14h2.29v2.29h-2.29zM18.29,9.14h4.57v2.29h-4.57zM25.15,9.14h4.57v2.29h-4.57zM34.29,9.14h4.57v2.29h-4.57zM45.72,9.14h2.29v2.29h-2.29zM50.30,9.14h2.29v2.29h-2.29zM54.87,9.14h6.86v2.29h-6.86zM64.01,9.14h2.29v2.29h-2.29zM0.00,11.43h2.29v2.29h-2.29zM13.72,11.43h2.29v2.29h-2.29zM25.15,11.43h2.29v2.29h-2.29zM34.29,11.43h2.29v2.29h-2.29zM38.87,11.43h2.29v2.29h-2.29zM50.30,11.43h2.29v2.29h-2.29zM64.01,11.43h2.29v2.29h-2.29zM0.00,13.72h16.00v2.29h-16.00zM18.29,13.72h2.29v2.29h-2.29zM22.86,13.72h2.29v2.29h-2.29zM27.43,13.72h2.29v2.29h-2.29zM32.01,13.72h2.29v2.29h-2.29zM36.58,13.72h2.29v2.29h-2.29zM41.15,13.72h2.29v2.29h-2.29zM45.72,13.72h2.29v2.29h-2.29zM50.30,13.72h16.00v2.29h-16.00zM18.29,16.00h4.57v2.29h-4.57zM27.43,16.00h2.29v2.29h-2.29zM32.01,16.00h6.86v2.29h-6.86zM45.72,16.00h2.29v2.29h-2.29zM0.00,18.29h11.43v2.29h-11.43zM13.72,18.29h4.57v2.29h-4.57zM22.86,18.29h2.29v2.29h-2.29zM27.43,18.29h2.29v2.29h-2.29zM36.58,18.29h4.57v2.29h-4.57zM45.72,18.29h6.86v2.29h-6.86zM54.87,18.29h2.29v2.29h-2.29zM59.44,18.29h4.57v2.29h-4.57zM2.29,20.58h2.29v2.29h-2.29zM6.86,20.58h2.29v2.29h-2.29zM11.43,20.58h2.29v2.29h-2.29zM18.29,20.58h2.29v2.29h-2.29zM22.86,20.58h2.29v2.29h-2.29zM27.43,20.58h2.29v2.29h-2.29zM32.01,20.58h11.43v2.29h-11.43zM45.72,20.58h9.14v2.29h-9.14zM57.16,20.58h2.29v2.29h-2.29zM13.72,22.86h4.57v2.29h-4.57zM25.15,22.86h6.86v2.29h-6.86zM34.29,22.86h2.29v2.29h-2.29zM41.15,22.86h2.29v2.29h-2.29zM48.01,22.86h18.29v2.29h-18.29zM0.00,25.15h2.29v2.29h-2.29zM4.57,25.15h4.57v2.29h-4.57zM18.29,25.15h4.57v2.29h-4.57zM32.01,25.15h4.57v2.29h-4.57zM41.15,25.15h2.29v2.29h-2.29zM50.30,25.15h6.86v2.29h-6.86zM59.44,25.15h2.29v2.29h-2.29zM0.00,27.43h4.57v2.29h-4.57zM9.14,27.43h9.14v2.29h-9.14zM20.58,27.43h4.57v2.29h-4.57zM29.72,27.43h16.00v2.29h-16.00zM48.01,27.43h2.29v2.29h-2.29zM61.73,27.43h4.57v2.29h-4.57zM2.29,29.72h13.72v2.29h-13.72zM20.58,29.72h2.29v2.29h-2.29zM27.43,29.72h2.29v2.29h-2.29zM34.29,29.72h2.29v2.29h-2.29zM38.87,29.72h18.29v2.29h-18.29zM4.57,32.01h2.29v2.29h-2.29zM9.14,32.01h2.29v2.29h-2.29zM13.72,32.01h2.29v2.29h-2.29zM22.86,32.01h2.29v2.29h-2.29zM27.43,32.01h2.29v2.29h-2.29zM34.29,32.01h4.57v2.29h-4.57zM41.15,32.01h2.29v2.29h-2.29zM45.72,32.01h6.86v2.29h-6.86zM54.87,32.01h11.43v2.29h-11.43zM0.00,34.29h4.57v2.29h-4.57zM6.86,34.29h2.29v2.29h-2.29zM11.43,34.29h2.29v2.29h-2.29zM20.58,34.29h4.57v2.29h-4.57zM27.43,34.29h2.29v2.29h-2.29zM36.58,34.29h4.57v2.29h-4.57zM43.44,34.29h2.29v2.29h-2.29zM52.58,34.29h6.86v2.29h-6.86zM64.01,34.29h2.29v2.29h-2.29zM0.00,36.58h4.57v2.29h-4.57zM13.72,36.58h4.57v2.29h-4.57zM25.15,36.58h4.57v2.29h-4.57zM32.01,36.58h2.29v2.29h-2.29zM43.44,36.58h22.86v2.29h-22.86zM9.14,38.87h2.29v2.29h-2.29zM16.00,38.87h16.00v2.29h-16.00zM34.29,38.87h6.86v2.29h-6.86zM43.44,38.87h4.57v2.29h-4.57zM50.30,38.87h4.57v2.29h-4.57zM57.16,38.87h2.29v2.29h-2.29zM61.73,38.87h4.57v2.29h-4.57zM0.00,41.15h2.29v2.29h-2.29zM6.86,41.15h11.43v2.29h-11.43zM20.58,41.15h6.86v2.29h-6.86zM29.72,41.15h4.57v2.29h-4.57zM36.58,41.15h2.29v2.29h-2.29zM43.44,41.15h2.29v2.29h-2.29zM52.58,41.15h4.57v2.29h-4.57zM61.73,41.15h2.29v2.29h-2.29zM0.00,43.44h4.57v2.29h-4.57zM9.14,43.44h4.57v2.29h-4.57zM16.00,43.44h2.29v2.29h-2.29zM45.72,43.44h2.29v2.29h-2.29zM50.30,43.44h2.29v2.29h-2.29zM59.44,43.44h4.57v2.29h-4.57zM4.57,45.72h4.57v2.29h-4.57zM11.43,45.72h11.43v2.29h-11.43zM27.43,45.72h6.86v2.29h-6.86zM38.87,45.72h2.29v2.29h-2.29zM43.44,45.72h16.00v2.29h-16.00zM64.01,45.72h2.29v2.29h-2.29zM25.15,48.01h2.29v2.29h-2.29zM29.72,48.01h4.57v2.29h-4.57zM36.58,48.01h6.86v2.29h-6.86zM45.72,48.01h2.29v2.29h-2.29zM54.87,48.01h4.57v2.29h-4.57zM64.01,48.01h2.29v2.29h-2.29zM0.00,50.30h16.00v2.29h-16.00zM18.29,50.30h4.57v2.29h-4.57zM25.15,50.30h16.00v2.29h-16.00zM43.44,50.30h4.57v2.29h-4.57zM50.30,50.30h2.29v2.29h-2.29zM54.87,50.30h2.29v2.29h-2.29zM64.01,50.30h2.29v2.29h-2.29zM0.00,52.58h2.29v2.29h-2.29zM13.72,52.58h2.29v2.29h-2.29zM27.43,52.58h9.14v2.29h-9.14zM38.87,52.58h4.57v2.29h-4.57zM45.72,52.58h2.29v2.29h-2.29zM54.87,52.58h2.29v2.29h-2.29zM59.44,52.58h4.57v2.29h-4.57zM0.00,54.87h2.29v2.29h-2.29zM4.57,54.87h6.86v2.29h-6.86zM13.72,54.87h2.29v2.29h-2.29zM18.29,54.87h2.29v2.29h-2.29zM25.15,54.87h2.29v2.29h-2.29zM43.44,54.87h18.29v2.29h-18.29zM64.01,54.87h2.29v2.29h-2.29zM0.00,57.16h2.29v2.29h-2.29zM4.57,57.16h6.86v2.29h-6.86zM13.72,57.16h2.29v2.29h-2.29zM18.29,57.16h2.29v2.29h-2.29zM22.86,57.16h6.86v2.29h-6.86zM36.58,57.16h4.57v2.29h-4.57zM43.44,57.16h4.57v2.29h-4.57zM54.87,57.16h2.29v2.29h-2.29zM61.73,57.16h4.57v2.29h-4.57zM0.00,59.44h2.29v2.29h-2.29zM4.57,59.44h6.86v2.29h-6.86zM13.72,59.44h2.29v2.29h-2.29zM18.29,59.44h2.29v2.29h-2.29zM22.86,59.44h2.29v2.29h-2.29zM32.01,59.44h2.29v2.29h-2.29zM50.30,59.44h2.29v2.29h-2.29zM59.44,59.44h2.29v2.29h-2.29zM0.00,61.73h2.29v2.29h-2.29zM13.72,61.73h2.29v2.29h-2.29zM18.29,61.73h2.29v2.29h-2.29zM22.86,61.73h4.57v2.29h-4.57zM29.72,61.73h22.86v2.29h-22.86zM61.73,61.73h4.57v2.29h-4.57zM0.00,64.01h16.00v2.29h-16.00zM18.29,64.01h6.86v2.29h-6.86zM29.72,64.01h16.00v2.29h-16.00zM48.01,64.01h4.57v2.29h-4.57zM59.44,64.01h2.29v2.29h-2.29zM64.01,64.01h2.29v2.29h-2.29z" fill="#111" shape-rendering="auto"/>
<circle cx="46.2" cy="56.8" r="35.9" fill="none" stroke="#111" stroke-width="1.35"/>
<circle cx="46.2" cy="57.099999999999994" r="24.0" fill="none" stroke="#111" stroke-width="1.25"/>
<defs><path id="arcT" d="M18.500000000000004,56.8 A27.7,27.7 0 0 1 73.9,56.8"/><path id="arcB" d="M13.600000000000001,56.8 A32.6,32.6 0 0 0 78.80000000000001,56.8"/></defs>
<text font-size="6.7" font-weight="bold" fill="#111" stroke="#111" stroke-width="0.35" text-anchor="middle"><textPath href="#arcT" startOffset="50%" textLength="37.5" lengthAdjust="spacingAndGlyphs">RESCUE</textPath></text>
<text font-size="6.7" font-weight="bold" fill="#111" stroke="#111" stroke-width="0.35" text-anchor="middle"><textPath href="#arcB" startOffset="50%" textLength="45" lengthAdjust="spacingAndGlyphs">LIFE 247</textPath></text>
<g transform="translate(0,10) scale(0.12443)"><path d="M290,205 L410,193 L420,240 L405,262 L352,302 L298,262 L283,228 Z" fill="#111"/><path d="M305,225 L258,262 M322,250 L268,300 M342,272 L297,330 M362,287 L337,342" stroke="#111" stroke-width="17" stroke-linecap="round" fill="none"/><path d="M405,235 L421,292" stroke="#111" stroke-width="19" stroke-linecap="round" fill="none"/><path d="M276,404 Q298,445 330,460 Q380,476 430,452 Q462,432 474,404 L440,384 L400,420 L345,424 L318,384 Z" fill="#111"/><path d="M330,398 L375,376 L442,410 L452,440 L420,466 L350,466 L325,440 Z" fill="#111"/><path d="M372,398 L396,334 M394,404 L430,345 M414,414 L456,366 M432,428 L470,398" stroke="#111" stroke-width="16" stroke-linecap="round" fill="none"/><path d="M338,425 L316,384" stroke="#111" stroke-width="18" stroke-linecap="round" fill="none"/><path d="M196,458 Q250,440 278,404 M472,404 Q500,440 550,456" stroke="#111" stroke-width="9" fill="none"/></g>
<defs><linearGradient id="cg" x1="0" x2="1" y1="0" y2="0"><stop offset="0" stop-color="#BF3530"/><stop offset="0.25" stop-color="#CE3D2E"/><stop offset="0.7" stop-color="#D6472F"/><stop offset="1" stop-color="#DD6045"/></linearGradient></defs>
<path d="M12.9,304.2 V237 Q12.9,233.8 16,233.8 H28.5 Q31.6,233.8 31.6,237 V304.2 Z" fill="url(#cg)"/>
<circle cx="22.3" cy="255" r="4.6" fill="none" stroke="#F6DDD8" stroke-width="1.3" stroke-dasharray="2.1 1.1"/><circle cx="22.3" cy="255" r="2.2" fill="#F3D2CC"/><circle cx="22.6" cy="254.8" r="1" fill="#D4452F"/><rect x="16.2" y="261.6" width="12" height="3.8" fill="#F7E3DF"/><rect x="16.2" y="266.6" width="12" height="2.6" fill="#EFB9AF"/><rect x="16.2" y="270.2" width="12" height="2" fill="#F3CFC8"/><rect x="16.4" y="278.4" width="11.5" height="0.8" fill="#EDB1A6"/><rect x="16.4" y="280.6" width="9" height="0.8" fill="#EDB1A6"/><rect x="16.4" y="282.8" width="11" height="0.8" fill="#EDB1A6"/><rect x="16.4" y="285" width="10" height="0.8" fill="#EDB1A6"/><rect x="16" y="290.5" width="4" height="2.4" fill="#EFC0B6"/><rect x="20.5" y="291.3" width="8.5" height="0.9" fill="#E9A99C"/><rect x="15.8" y="296.8" width="13" height="3" fill="#E8D9B0"/><rect x="17" y="297.3" width="2" height="2" fill="#E9D25E"/><rect x="21" y="297.3" width="2" height="2" fill="#E9D25E"/><rect x="25" y="297.3" width="2" height="2" fill="#E9D25E"/>
</svg></body></html>
